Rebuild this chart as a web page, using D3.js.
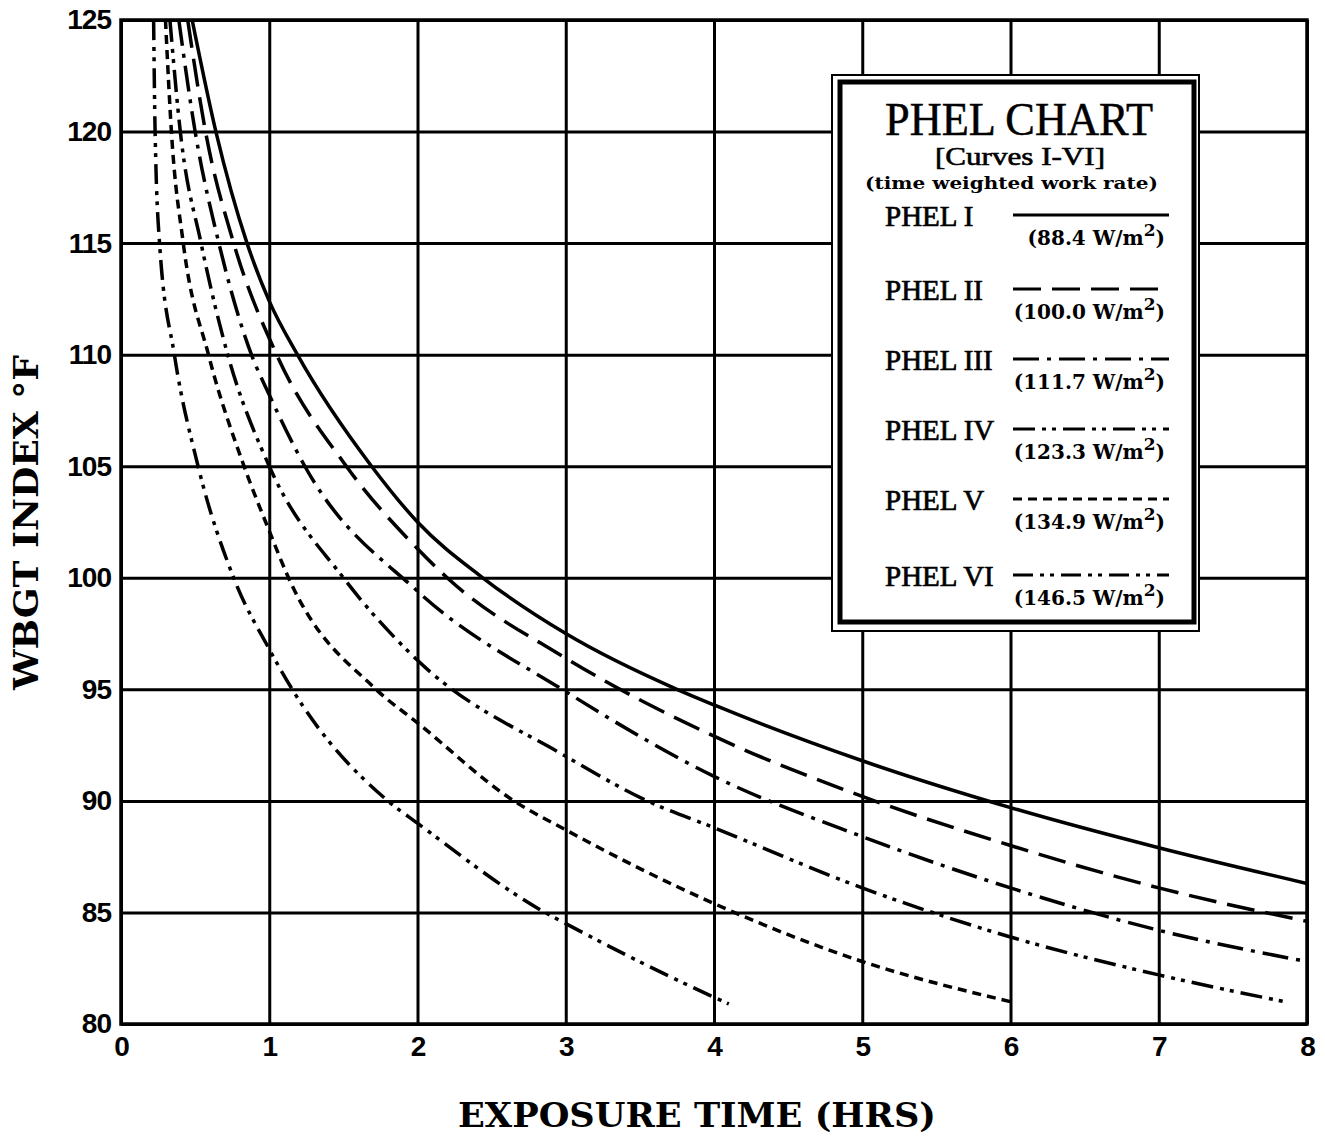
<!DOCTYPE html>
<meta charset="utf-8">
<style>
    body { margin: 0; background: #fff; }
    .grid line { stroke: #000; stroke-width: 3; }
    .grid path { display: none; }
    .tick text {
        font-family: "Liberation Sans", sans-serif;
        font-weight: bold;
        font-size: 28px;
        letter-spacing: -1px;
        fill: #000;
    }
    .curve { fill: none; stroke: #000; stroke-width: 3.5; }
</style>

<div class="chart"></div>

<script src="https://cdn.jsdelivr.net/npm/d3@7"></script>

<script>
    // values: [exposure hours, WBGT °F]
    var phelI   = [[0.48,125],[0.64,120],[0.85,115],[1.0,112.4],[1.19,110],[1.69,105],[2,102.5],[2.44,100],[3,97.5],[3.75,95],[4,94.3],[5,91.8],[6,89.7],[7,87.9],[8,86.3]];
    var phelII  = [[0.45,125],[0.57,120],[0.76,115],[1.05,110],[1.52,105],[2,101.3],[2.2,100],[3,96.4],[4,92.9],[5,90.2],[6,88.0],[7,86.1],[8,84.6]];
    var phelIII = [[0.39,125],[0.50,120],[0.66,115],[0.88,110],[1.0,108.2],[1.24,105],[2,99.4],[3,94.9],[4,91.1],[5,88.4],[6,86.1],[7,84.2],[8,82.8]];
    var phelIV  = [[0.33,125],[0.40,120],[0.54,115],[0.72,110],[1.0,105],[1.5,100],[2,96.3],[3,92.0],[3.55,90],[4,88.8],[5,86.1],[6,83.9],[7,82.2],[7.85,81.0]];
    var phelV   = [[0.30,125],[0.34,120],[0.42,115],[0.59,110],[0.83,105],[1.0,102.1],[1.13,100],[1.72,95],[2,93.5],[2.65,90],[3,88.7],[4,85.4],[5,82.8],[6,81.0]];
    var phelVI  = [[0.22,125],[0.23,120],[0.26,115],[0.36,110],[0.52,105],[0.76,100],[1.0,96.8],[1.155,95],[1.8,90],[2,89.0],[2.86,85],[3,84.5],[4,81.2],[4.1,80.9]];

    var seriesNames = ["PHEL I", "PHEL II", "PHEL III", "PHEL IV", "PHEL V", "PHEL VI"];
    var seriesRates = ["88.4", "100.0", "111.7", "123.3", "134.9", "146.5"];
    var seriesData = [phelI, phelII, phelIII, phelIV, phelV, phelVI];
    var dashes = ["none", "28,11", "26,8,4,8", "22,7,4,6,4,7", "9,6", "20,7,4,6,4,7"];

    var xTicks = [0, 1, 2, 3, 4, 5, 6, 7, 8];
    var yTicks = [80, 85, 90, 95, 100, 105, 110, 115, 120, 125];

    var margin = {top: 20, left: 121},
        width = 1186,
        height = 1004;

    var svg = d3.select('.chart').append('svg')
        .attr('width', 1325)
        .attr('height', 1138);

    var g = svg.append('g')
        .attr('transform', 'translate(' + margin.left + ',' + margin.top + ')');

    var x = d3.scaleLinear().domain([0, 8]).range([0, width]);
    var y = d3.scaleLinear().domain([80, 125]).range([height, 0]);

    // grid + tick labels
    g.append('g')
        .attr('class', 'grid')
        .attr('transform', 'translate(0,' + height + ')')
        .call(d3.axisBottom(x).tickValues(xTicks).tickSize(-height).tickPadding(12).tickFormat(d3.format('d')));

    g.append('g')
        .attr('class', 'grid')
        .call(d3.axisLeft(y).tickValues(yTicks).tickSize(-width).tickPadding(10).tickFormat(d3.format('d')));

    g.append('rect')
        .attr('width', width)
        .attr('height', height)
        .attr('fill', 'none')
        .attr('stroke', '#000')
        .attr('stroke-width', 3.5);

    g.append('clipPath').attr('id', 'plot')
        .append('rect').attr('width', width).attr('height', height);

    var line = d3.line()
        .x(function(d) { return x(d[0]); })
        .y(function(d) { return y(d[1]); })
        .curve(d3.curveMonotoneX);

    g.append('g').attr('clip-path', 'url(#plot)')
        .selectAll('path')
        .data(seriesData)
        .enter().append('path')
        .attr('class', 'curve')
        .attr('d', line)
        .attr('stroke-dasharray', function(d, i) { return dashes[i]; });

    // axis titles
    svg.append('text')
        .attr('x', 458).attr('y', 1127)
        .attr('textLength', 478).attr('lengthAdjust', 'spacingAndGlyphs')
        .style('font-family', '"DejaVu Serif", serif')
        .style('font-weight', 'bold')
        .style('font-size', '33px')
        .text('EXPOSURE TIME (HRS)');

    svg.append('text')
        .attr('transform', 'translate(38,690) rotate(-90)')
        .attr('textLength', 335).attr('lengthAdjust', 'spacingAndGlyphs')
        .style('font-family', '"DejaVu Serif", serif')
        .style('font-weight', 'bold')
        .style('font-size', '33px')
        .text('WBGT INDEX \u00B0F');

    // legend box
    var lg = svg.append('g');
    lg.append('rect')
        .attr('x', 832).attr('y', 75).attr('width', 367).attr('height', 556)
        .attr('fill', '#fff').attr('stroke', '#000').attr('stroke-width', 2);
    lg.append('rect')
        .attr('x', 840).attr('y', 82).attr('width', 354).attr('height', 540)
        .attr('fill', '#fff').attr('stroke', '#000').attr('stroke-width', 5);

    lg.append('text')
        .attr('x', 885).attr('y', 135)
        .attr('textLength', 268).attr('lengthAdjust', 'spacingAndGlyphs')
        .style('font-family', '"Liberation Serif", serif')
        .style('font-size', '46px')
        .attr('stroke', '#000').attr('stroke-width', 0.5)
        .text('PHEL CHART');
    lg.append('text')
        .attr('x', 935).attr('y', 165)
        .attr('textLength', 170).attr('lengthAdjust', 'spacingAndGlyphs')
        .style('font-family', '"Liberation Serif", serif')
        .style('font-size', '25px')
        .attr('stroke', '#000').attr('stroke-width', 0.6)
        .text('[Curves I-VI]');
    lg.append('text')
        .attr('x', 865).attr('y', 189)
        .attr('textLength', 293).attr('lengthAdjust', 'spacingAndGlyphs')
        .style('font-family', '"DejaVu Serif", serif')
        .style('font-weight', 'bold')
        .style('font-size', '17px')
        .text('(time weighted work rate)');

    var entryY = [226, 300, 370, 440, 510, 586];
    var entries = lg.selectAll('g.entry')
        .data(seriesNames)
        .enter().append('g')
        .attr('class', 'entry')
        .attr('transform', function(d, i) { return 'translate(0,' + entryY[i] + ')'; });

    entries.append('text')
        .attr('x', 885)
        .style('font-family', '"Liberation Serif", serif')
        .style('font-size', '29px')
        .attr('stroke', '#000').attr('stroke-width', 0.7)
        .text(function(d) { return d; });

    entries.append('line')
        .attr('x1', 1013).attr('x2', 1169)
        .attr('y1', -11).attr('y2', -11)
        .attr('stroke', '#000').attr('stroke-width', 3)
        .attr('stroke-dasharray', function(d, i) { return dashes[i] === 'none' ? null : dashes[i]; });

    var rateText = entries.append('text')
        .attr('x', 1165).attr('y', 19)
        .attr('text-anchor', 'end')
        .style('font-family', '"DejaVu Serif", serif')
        .style('font-weight', 'bold')
        .style('font-size', '20px');
    rateText.append('tspan').text(function(d, i) { return '(' + seriesRates[i] + ' W/m'; });
    rateText.append('tspan').attr('dy', -9).style('font-size', '17px').text('2');
    rateText.append('tspan').attr('dy', 9).text(')');
</script>
